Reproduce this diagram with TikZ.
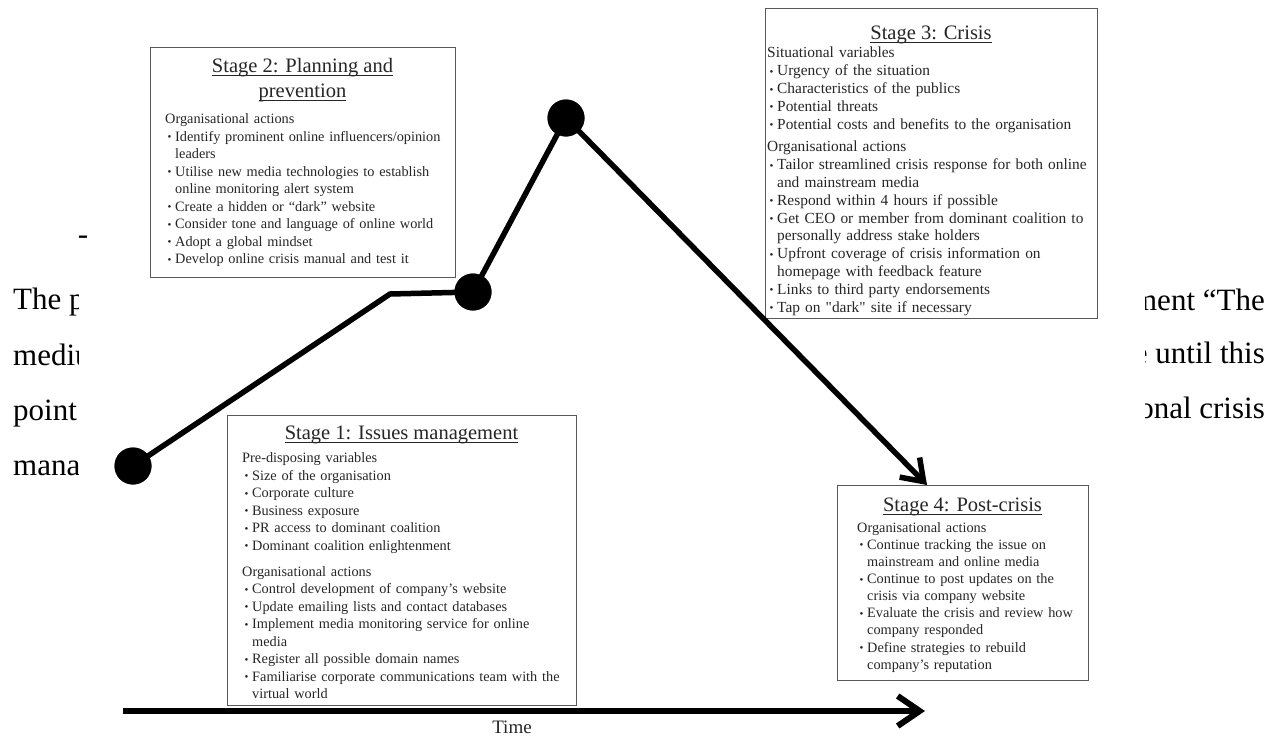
\documentclass[tikz,border=0pt]{standalone}
\usepackage{fontspec}
\setmainfont{Liberation Serif}[Ligatures=TeXOff]
\usetikzlibrary{arrows.meta,calc}

\newcommand{\stul}[1]{\setbox0\hbox{#1}\rlap{\rule[-3.6pt]{\wd0}{0.9pt}}\box0}
\newcommand{\stitem}[1]{\par\noindent\hangindent=10pt\hangafter=1\makebox[10pt][l]{\hspace{2.5pt}\raisebox{0.6pt}{\fontsize{11}{11}\selectfont\textbullet}}#1}
\newcommand{\sthead}[1]{\par\noindent #1}

\tikzset{
  stagebox/.style={draw=black!65, line width=1.4pt, fill=white, inner sep=0pt, anchor=north west},
  sttitle/.style={inner sep=0pt, anchor=base, text=black!85, font=\fontsize{20.5}{24}\selectfont},
  stbody/.style={inner sep=0pt, anchor=north west, text=black!85, text width=340pt, align=left, font=\fontsize{14.3}{17.5}\selectfont},
  dot/.style={circle, fill=black, minimum size=37pt, inner sep=0pt},
  trend/.style={line width=5.5pt, draw=black},
  timeline/.style={line width=6pt, draw=black},
  bgtext/.style={inner sep=0pt, text=black, font=\fontsize{31}{36}\selectfont},
}

\begin{document}
\begin{tikzpicture}[x=1pt,y=-1pt]
\useasboundingbox[fill=white] (0,0) rectangle (1270,736);

% background page text fragments
\node[bgtext] (dash) at (83,240) {-};
\begin{scope}
  \clip (0,260) rectangle (78,500);
  \node[bgtext, anchor=base west] (fl1) at (13,309) {The p};
  \node[bgtext, anchor=base west] (fl2) at (13,365) {medium};
  \node[bgtext, anchor=base west] (fl3) at (13,420) {point};
  \node[bgtext, anchor=base west] (fl4) at (13,475) {mana};
\end{scope}
\begin{scope}
  \clip (1145,270) rectangle (1270,440);
  \node[bgtext, anchor=base east] (fr1) at (1265,310) {ment “The};
  \node[bgtext, anchor=base east] (fr2) at (1265,363) {e until this};
  \node[bgtext, anchor=base east] (fr3) at (1265,418) {onal crisis};
\end{scope}

% stage boxes
\node[stagebox, minimum width=349pt, minimum height=290pt] (s1) at (227,415) {};
\node[stagebox, minimum width=305pt, minimum height=230pt] (s2) at (150,47) {};
\node[stagebox, minimum width=332pt, minimum height=310pt] (s3) at (765,8) {};
\node[stagebox, minimum width=251pt, minimum height=195pt] (s4) at (837,485) {};

% Stage 1
\node[sttitle] (s1t) at (401.5,439) {\stul{Stage 1: Issues management}};
\node[stbody] (s1b) at (242,445) {%
\sthead{Pre-disposing variables}
\stitem{Size of the organisation}
\stitem{Corporate culture}
\stitem{Business exposure}
\stitem{PR access to dominant coalition}
\stitem{Dominant coalition enlightenment}
\par\vspace{8.5pt}
\sthead{Organisational actions}
\stitem{Control development of company’s website}
\stitem{Update emailing lists and contact databases}
\stitem{Implement media monitoring service for online\newline media}
\stitem{Register all possible domain names}
\stitem{Familiarise corporate communications team with the\newline virtual world}\par};

% Stage 2
\node[sttitle] (s2ta) at (302.5,72) {\stul{Stage 2: Planning and}};
\node[sttitle] (s2tb) at (302.5,97) {\stul{prevention}};
\node[stbody] (s2b) at (165,106) {%
\sthead{Organisational actions}
\stitem{Identify prominent online influencers/opinion\newline leaders}
\stitem{Utilise new media technologies to establish\newline online monitoring alert system}
\stitem{Create a hidden or “dark” website}
\stitem{Consider tone and language of online world}
\stitem{Adopt a global mindset}
\stitem{Develop online crisis manual and test it}\par};

% Stage 3
\node[sttitle] (s3t) at (931,39) {\stul{Stage 3: Crisis}};
\node[stbody, font=\fontsize{15.4}{17.8}\selectfont] (s3b) at (767,40) {%
\sthead{Situational variables}
\stitem{Urgency of the situation}
\stitem{Characteristics of the publics}
\stitem{Potential threats}
\stitem{Potential costs and benefits to the organisation}
\par\vspace{5pt}
\sthead{Organisational actions}
\stitem{Tailor streamlined crisis response for both online\newline and mainstream media}
\stitem{Respond within 4 hours if possible}
\stitem{Get CEO or member from dominant coalition to\newline personally address stake holders}
\stitem{Upfront coverage of crisis information on\newline homepage with feedback feature}
\stitem{Links to third party endorsements}
\stitem{Tap on "dark" site if necessary}\par};

% Stage 4
\node[sttitle] (s4t) at (962.5,511) {\stul{Stage 4: Post-crisis}};
\node[stbody, font=\fontsize{14.3}{17.1}\selectfont] (s4b) at (857,515) {%
\sthead{Organisational actions}
\stitem{Continue tracking the issue on\newline mainstream and online media}
\stitem{Continue to post updates on the\newline crisis via company website}
\stitem{Evaluate the crisis and review how\newline company responded}
\stitem{Define strategies to rebuild\newline company’s reputation}\par};

% trend line
\node[dot] (p1) at (133,466) {};
\node[dot] (p2) at (473,292) {};
\node[dot] (p3) at (566,118) {};
\coordinate (kink) at (390,294);
\coordinate (s4tip) at ($(s4.north west)+(90,0)$);
\draw[trend] (p1.center) -- (kink) -- (p2.center) -- (p3.center);
\draw[trend, -{Straight Barb[length=20pt,width=28pt]}] (p3.center) -- (s4tip);
\node[dot] at (p1) {};
\node[dot] at (p2) {};
\node[dot] at (p3) {};

% time axis
\coordinate (t0) at (123,711);
\coordinate (t1) at (925,711);
\draw[timeline, -{Straight Barb[length=22pt,width=30pt]}] (t0) -- (t1);
\node[inner sep=0pt, text=black!85, font=\fontsize{19}{22}\selectfont] (time) at (512,727) {Time};
\end{tikzpicture}
\end{document}
